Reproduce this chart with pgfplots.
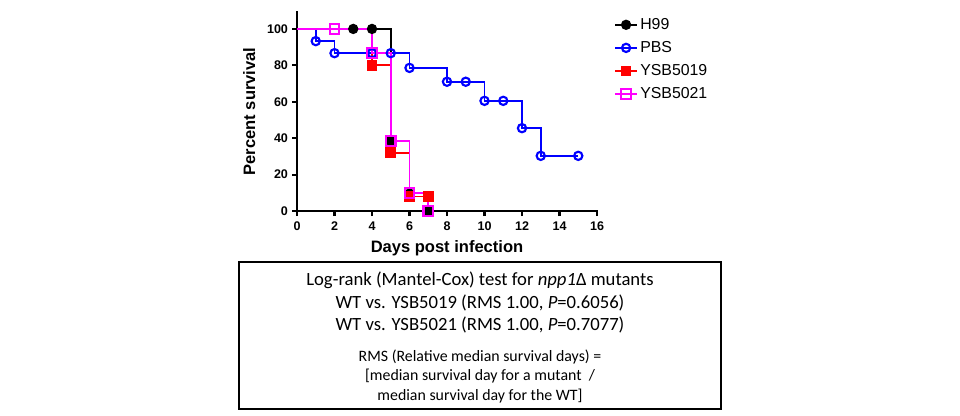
\documentclass[border=0pt]{standalone}
\usepackage{pgfplots}
\pgfplotsset{compat=1.18}
\usepackage{fontspec}
\setmainfont{Liberation Sans}
\newfontfamily\carlito{Carlito}
\definecolor{mag}{RGB}{255,0,255}
\begin{document}
\begin{tikzpicture}
\path[use as bounding box] (0,0) rectangle (720pt,311.25pt);
\begin{axis}[
    at={(222.75pt,153pt)}, anchor=south west,
    scale only axis, width=225pt, height=149.25pt,
    xmin=0, xmax=16, ymin=0, ymax=109.3,
    axis lines=left,
    axis line style={-, line width=2.1pt, line cap=rect},
    xtick={0,2,...,16}, ytick={0,20,...,100},
    tick align=outside, major tick length=3.75pt,
    tick style={line width=1.6pt, black},
    /pgf/number format/assume math mode=true,
    ticklabel style={font=\bfseries\fontsize{9.4}{11}\selectfont},
    yticklabel style={xshift=0.5pt},
    xticklabel style={yshift=-1pt},
    xlabel={Days post infection},
    ylabel={Percent survival},
    xlabel style={yshift=-0.5pt},
    ylabel style={yshift=2pt},
    label style={font=\bfseries\fontsize{12.4}{14}\selectfont},
    clip=false,
    const plot,
    every axis plot/.append style={line width=1.3pt},
    legend style={draw=none, fill=none, at={(1,1)}, anchor=north west,
        xshift=12pt, yshift=-1.5pt, row sep=3.5pt, inner sep=1pt,
        font=\fontsize{11.9}{13}\selectfont},
    legend cell align=left,
    legend image code/.code={\draw[sharp plot, mark indices={2}] plot coordinates {(0cm,0cm) (0.28cm,0cm) (0.56cm,0cm)};},
]
% H99
\addplot[black, mark=*, mark size=3.2pt, mark indices={2,...,6}] coordinates {
    (0,100) (3,100) (4,100) (5,38.5) (6,9.6) (7,0)
};
\addlegendentry{H99}
% PBS
\addplot[blue, mark=o, mark size=3.1pt, mark options={line width=1.6pt}, mark indices={2,...,13}] coordinates {
    (0,100) (1,93.3) (2,86.7) (4,86.7) (5,86.7) (6,78.6) (8,71.0) (9,71.0)
    (10,60.5) (11,60.5) (12,45.5) (13,30.3) (15,30.3)
};
\addlegendentry{PBS}
% YSB5019
\addplot[red, mark=square*, mark size=3.3pt, mark indices={2,...,5}] coordinates {
    (0,100) (4,80) (5,32) (6,8) (7,8)
};
\addlegendentry{YSB5019}
% YSB5021
\addplot[mag, mark=square, mark size=3.6pt, mark options={line width=1.6pt}, mark indices={2,...,6}] coordinates {
    (0,100) (2,100) (4,86.7) (5,38.5) (6,10) (7,0)
};
\addlegendentry{YSB5021}
\end{axis}
\draw[line width=0.8pt] (179.25pt,4.5pt) rectangle (540.75pt,114.75pt);
\begin{scope}[every node/.style={anchor=base, inner sep=0pt}]
\node at (360pt,97.5pt) {\carlito\fontsize{14}{16}\selectfont Log-rank (Mantel-Cox) test for \textit{npp1}Δ mutants};
\node at (360pt,80.25pt) {\carlito\fontsize{14}{16}\selectfont WT vs. YSB5019 (RMS 1.00, \textit{P}=0.6056)};
\node at (360pt,63.75pt) {\carlito\fontsize{14}{16}\selectfont WT vs. YSB5021 (RMS 1.00, \textit{P}=0.7077)};
\node at (360pt,40.5pt) {\carlito\fontsize{11.9}{13}\selectfont RMS (Relative median survival days) =};
\node at (360pt,26.25pt) {\carlito\fontsize{11.9}{13}\selectfont [median survival day for a mutant \ /};
\node at (360pt,11.25pt) {\carlito\fontsize{11.9}{13}\selectfont median survival day for the WT]};
\end{scope}
\end{tikzpicture}
\end{document}
